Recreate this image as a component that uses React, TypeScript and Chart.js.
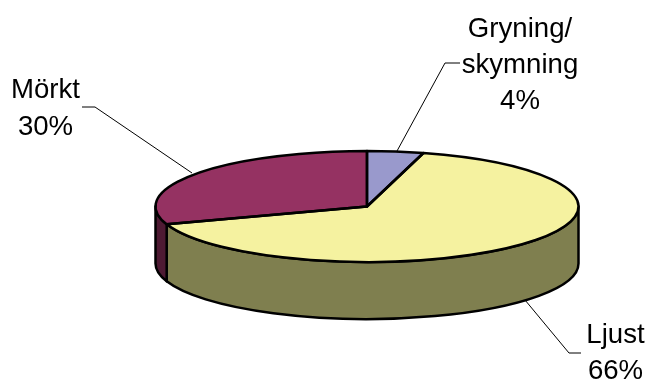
import React, { useEffect, useRef } from "react";
import { Chart, registerables } from "chart.js";

Chart.register(...registerables);

const categories = ["Gryning/skymning", "Ljust", "Mörkt"];
const shareValues = [4.3, 65.5, 30.2];
const topColors = ["#9999CC", "#F5F2A0", "#953262"];
const sideColors = ["#4D4D66", "#7F7F4F", "#4E1A33"];
const labelLines = [
  ["Gryning/", "skymning", "4%"],
  ["Ljust", "66%"],
  ["Mörkt", "30%"],
];

const CX = 367;
const CY = 206.5;
const RX = 211.5;
const RY = 55.5;
const DEPTH = 57;
const EDGE = 2.5;
const FONT = '27.6px "Liberation Sans", Arial, sans-serif';

const labelLayout = [
  { x: 520, y: [37, 73, 109], leader: [[397, 151], [445, 63], [460, 63]] },
  { x: 615.5, y: [343, 379], leader: [[525, 300], [569, 353], [581, 353]] },
  { x: 45.5, y: [98, 135], leader: [[192, 173], [95, 107], [82, 107]] },
];

const pie3d = {
  id: "pie3d",
  beforeDatasetsDraw(chart: any) {
    const ctx = chart.ctx;
    const arcs = chart.getDatasetMeta(0).data;
    arcs.forEach((arc: any, i: number) => {
      // Only the near half of the rim (canvas angles 0..PI) shows.
      const ranges = [
        [arc.startAngle, arc.endAngle],
        [arc.startAngle - 2 * Math.PI, arc.endAngle - 2 * Math.PI],
      ];
      ranges.forEach(([s, e]) => {
        const a = Math.max(s, 0);
        const b = Math.min(e, Math.PI);
        if (b <= a) return;
        ctx.save();
        ctx.beginPath();
        ctx.ellipse(CX, CY, RX, RY, 0, a, b, false);
        ctx.lineTo(CX + RX * Math.cos(b), CY + RY * Math.sin(b) + DEPTH);
        ctx.ellipse(CX, CY + DEPTH, RX, RY, 0, b, a, true);
        ctx.closePath();
        ctx.fillStyle = sideColors[i];
        ctx.fill();
        ctx.lineWidth = EDGE;
        ctx.lineJoin = "round";
        ctx.strokeStyle = "#000";
        ctx.stroke();
        ctx.restore();
      });
    });
    const r = arcs[0].outerRadius;
    ctx.save();
    ctx.translate(CX, CY);
    ctx.scale(RX / r, RY / r);
    ctx.translate(-arcs[0].x, -arcs[0].y);
  },
  afterDatasetsDraw(chart: any) {
    const ctx = chart.ctx;
    ctx.restore();
    const arcs = chart.getDatasetMeta(0).data;
    arcs.forEach((arc: any) => {
      ctx.save();
      ctx.beginPath();
      ctx.moveTo(CX, CY);
      ctx.ellipse(CX, CY, RX, RY, 0, arc.startAngle, arc.endAngle, false);
      ctx.closePath();
      ctx.lineWidth = EDGE;
      ctx.lineJoin = "round";
      ctx.strokeStyle = "#000";
      ctx.stroke();
      ctx.restore();
    });
    labelLayout.forEach((item, i) => {
      ctx.save();
      ctx.beginPath();
      item.leader.forEach(([x, y], k) => (k ? ctx.lineTo(x, y) : ctx.moveTo(x, y)));
      ctx.lineWidth = 1;
      ctx.strokeStyle = "#000";
      ctx.stroke();
      ctx.font = FONT;
      ctx.fillStyle = "#000";
      ctx.textAlign = "center";
      ctx.textBaseline = "alphabetic";
      labelLines[i].forEach((line, k) => ctx.fillText(line, item.x, item.y[k]));
      ctx.restore();
    });
  },
};

export default function App() {
  const ref = useRef<HTMLCanvasElement>(null);
  useEffect(() => {
    const chart = new Chart(ref.current!, {
      type: "pie",
      data: {
        labels: categories,
        datasets: [
          {
            data: shareValues,
            backgroundColor: topColors,
            borderWidth: 0,
            hoverOffset: 0,
          },
        ],
      },
      options: {
        responsive: false,
        animation: false,
        layout: { padding: 0 },
        plugins: { legend: { display: false }, tooltip: { enabled: false } },
        events: [],
      },
      plugins: [pie3d],
    } as any);
    return () => chart.destroy();
  }, []);
  return (
    <canvas
      ref={ref}
      width={649}
      height={381}
      style={{ position: "absolute", left: 0, top: 0, display: "block", background: "#fff" }}
    />
  );
}
